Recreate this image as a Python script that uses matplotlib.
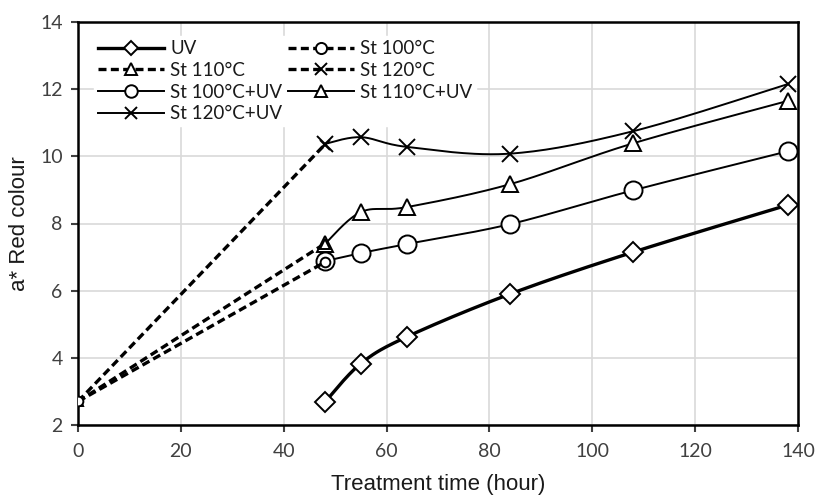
import numpy as np
import matplotlib
matplotlib.use("Agg")
import matplotlib.pyplot as plt
from matplotlib.lines import Line2D

# ---- data ----
t_uv = [48, 55, 64, 84, 108, 138]
uv = [2.68, 3.83, 4.63, 5.9, 7.15, 8.55]

t_st = [0, 48]
st100 = [2.7, 6.85]
st110 = [2.7, 7.4]
st120 = [2.7, 10.35]

st100_uv = [6.88, 7.12, 7.39, 7.98, 8.99, 10.15]
st110_uv = [7.39, 8.34, 8.49, 9.17, 10.39, 11.65]
st120_uv = [10.37, 10.57, 10.28, 10.08, 10.75, 12.15]

xticks = [0, 20, 40, 60, 80, 100, 120, 140]
yticks = [2, 4, 6, 8, 10, 12, 14]


def smooth(x, y, n=30):
    """Catmull-Rom (Excel-like smoothed line) through the data points."""
    x = np.asarray(x, float)
    y = np.asarray(y, float)
    P = np.column_stack([x, y])
    P = np.vstack([P[0], P, P[-1]])
    out = []
    for i in range(1, len(P) - 2):
        p0, p1, p2, p3 = P[i - 1], P[i], P[i + 1], P[i + 2]
        s = np.linspace(0, 1, n)[:, None]
        c = 0.5 * ((2 * p1) + (-p0 + p2) * s + (2 * p0 - 5 * p1 + 4 * p2 - p3) * s ** 2
                   + (-p0 + 3 * p1 - 3 * p2 + p3) * s ** 3)
        out.append(c if i == 1 else c[1:])
    c = np.vstack(out)
    return c[:, 0], c[:, 1]


plt.rcParams['font.family'] = ['Lato', 'DejaVu Sans']

fig = plt.figure(figsize=(8.15, 4.95), dpi=100)
ax = fig.add_axes([78 / 815, 70 / 495, 720 / 815, 403 / 495])

k = 'black'
dash = (2.4, 1.3)
mew = 1.4

def draw(x, y, marker, ms, lw, ls, z):
    xs, ys = smooth(x, y)
    if ls == 'solid':
        ax.plot(xs, ys, color=k, lw=lw, zorder=z, solid_capstyle='butt')
    else:
        ax.plot(xs, ys, color=k, lw=lw, zorder=z, dashes=dash)
    ax.plot(x, y, ls='none', marker=marker, ms=ms, mfc='white', mec=k, mew=mew, zorder=z + 0.5)

draw(t_uv, uv, 'D', 10, 2.4, 'solid', 4)
draw(t_uv, st100_uv, 'o', 13, 1.4, 'solid', 5)
draw(t_uv, st110_uv, '^', 12, 1.4, 'solid', 5)
draw(t_uv, st120_uv, 'x', 11, 1.4, 'solid', 5)
draw(t_st, st120, 'x', 7, 2.4, 'dash', 6)
draw(t_st, st110, '^', 7, 2.4, 'dash', 6)
draw(t_st, st100, 'o', 7, 2.4, 'dash', 6)

ax.set_xlim(0, 140)
ax.set_ylim(2, 14)
ax.set_xticks(xticks)
ax.set_yticks(yticks)
ax.grid(True, color='#d9d9d9', lw=1.2, zorder=0)
ax.set_axisbelow(True)
for s in ax.spines.values():
    s.set_color(k)
    s.set_linewidth(1.8)
ax.tick_params(direction='out', length=5, width=1.5, labelsize=14, colors='#404040', pad=6)
ax.tick_params(axis='x', pad=8)
ax.set_xlabel('Treatment time (hour)', fontsize=16, family=['Liberation Sans'], color='#1a1a1a', labelpad=10)
ax.set_ylabel('a* Red colour', fontsize=16, family=['Liberation Sans'], color='#1a1a1a', labelpad=7)

def h(marker, ms, lw, ls):
    kw = dict(color=k, lw=lw, marker=marker, ms=ms, mfc='white', mec=k, mew=mew)
    if ls != 'solid':
        kw['dashes'] = dash
    return Line2D([], [], **kw)

handles = [h('D', 7, 2.4, 'solid'), h('^', 8, 2.4, 'dash'), h('o', 9, 1.4, 'solid'),
           h('x', 9, 1.4, 'solid'), h('o', 8, 2.4, 'dash'), h('x', 8, 2.4, 'dash'),
           h('^', 9, 1.4, 'solid')]
labels = ['UV', 'St 110°C', 'St 100°C+UV', 'St 120°C+UV', 'St 100°C', 'St 120°C', 'St 110°C+UV']
leg = ax.legend(handles, labels, ncol=2, loc='upper left', bbox_to_anchor=(85 / 815, 1 - 27 / 495),
                bbox_transform=fig.transFigure, frameon=True, fancybox=False, framealpha=1,
                edgecolor='white', facecolor='white', fontsize=13.5, handlelength=3.5,
                handletextpad=0.35, labelspacing=0.25, columnspacing=0.3, borderpad=0.2)
for t in leg.get_texts():
    t.set_color('#1a1a1a')

fig.savefig('out.png', dpi=100)
